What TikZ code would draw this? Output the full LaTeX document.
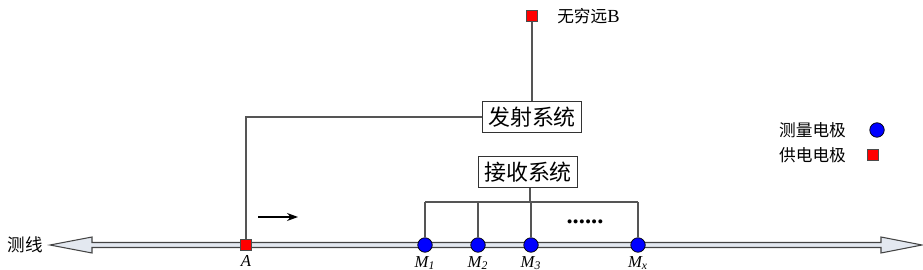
\documentclass[tikz,border=0pt]{standalone}
\usepackage{fontspec}
\setmainfont{Liberation Serif}
\newfontfamily\cjk{Noto Sans CJK SC}
\usetikzlibrary{positioning,arrows.meta,calc}
\definecolor{wiregray}{HTML}{555555}
\definecolor{shaftfill}{HTML}{E3E8F0}
\tikzset{
  sysbox/.style ={draw=black!80, fill=white, inner xsep=3pt, inner ysep=1pt,
                  minimum height=0.62cm, font=\cjk\fontsize{12.5}{14}\selectfont},
  meas/.style   ={circle, fill=blue, draw=black, minimum size=0.29cm, inner sep=0pt},
  supply/.style ={rectangle, fill=red, draw=black!70, minimum size=0.21cm, inner sep=0pt},
  wire/.style   ={draw=wiregray, line width=0.6pt},
  elab/.style   ={font=\fontsize{9.5}{10}\selectfont\itshape, inner sep=1pt},
  note/.style   ={font=\cjk\fontsize{9.5}{11}\selectfont, inner sep=1pt},
}
\begin{document}
\begin{tikzpicture}[x=0.02cm,y=-0.02cm]
  \useasboundingbox (0,0) rectangle (923,270);
  % --- survey line (double-headed hollow arrow) ---
  \draw[draw=wiregray!80!black, fill=shaftfill, line width=0.6pt]
    (50,245) -- (92,237) -- (92,242.5) -- (881,242.5) -- (881,237) -- (922,245)
    -- (881,253) -- (881,247.5) -- (92,247.5) -- (92,253) -- cycle;
  \node[note, anchor=east, font=\cjk\fontsize{10}{11}\selectfont] (line) at (45,245) {测线};
  % --- electrodes on the line ---
  \node[supply] (A) at (246,245) {};
  \node[elab, below=1.5pt of A] (Alab) {A};
  \foreach \n/\x in {1/425,2/478,3/531,x/638}{
    \node[meas] (M\n) at (\x,245) {};
    \node[elab, below=1pt of M\n] (M\n lab) {M\textsubscript{\n}};
  }
  \node[font=\bfseries\fontsize{14}{14}\selectfont] (dots) at (585,222) {......};
  % --- systems ---
  \node[sysbox] (send) at (532,117) {发射系统};
  \node[sysbox] (recv) at (528,172) {接收系统};
  \node[supply] (B) at (532,16) {};
  \node[note, right=10pt of B] (Blab) {无穷远{\rmfamily\fontsize{10.5}{11}\selectfont B}};
  \draw[wire] (send.north) -- (B);
  \draw[wire] (send.west) -| (A);
  % --- receiver bus ---
  \coordinate (bus) at (530,202);
  \draw[wire] (recv.south -| bus) -- (bus);
  \draw[wire] (M1 |- bus) -- (Mx |- bus);
  \foreach \n in {1,2,3,x}\draw[wire] (M\n |- bus) -- (M\n);
  % --- moving direction ---
  \coordinate (mv0) at (258,217);
  \coordinate (mv1) at (298,217);
  \draw[-{Stealth[length=2.2mm,width=1.6mm]}, line width=0.6pt] (mv0) -- (mv1);
  % --- legend ---
  \node[note, anchor=east] (lgm) at (848,130) {测量电极};
  \node[meas] (lgmk) at (877,130) {};
  \node[note, anchor=east] (lgs) at (848,155) {供电电极};
  \node[supply] (lgsk) at (873,155) {};
\end{tikzpicture}
\end{document}
